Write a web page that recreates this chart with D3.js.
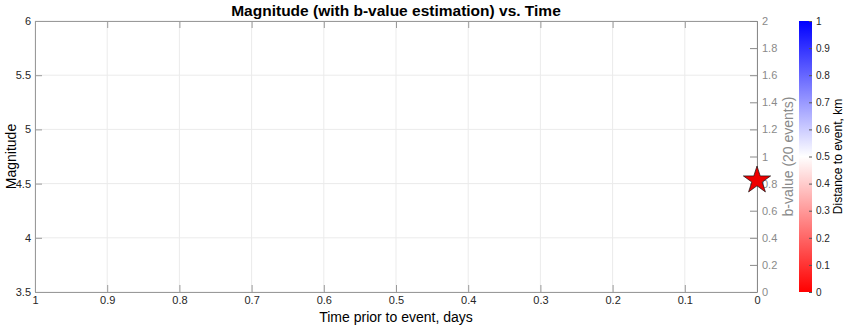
<!DOCTYPE html>
<html>
<head>
<meta charset="utf-8">
<script src="https://cdn.jsdelivr.net/npm/d3@7"></script>
<style>
  html, body { margin: 0; padding: 0; background: #fff; }
  svg { display: block; font-family: "Liberation Sans", Arial, Helvetica, sans-serif; }
</style>
</head>
<body>
<svg id="chart" width="844" height="326"></svg>
<script>
// Axis ranges and ticks
const timeDomain = [1, 0];            // days prior to event, reversed
const timeTicks = [1, 0.9, 0.8, 0.7, 0.6, 0.5, 0.4, 0.3, 0.2, 0.1, 0];
const magDomain = [3.5, 6];
const magTicks = [3.5, 4, 4.5, 5, 5.5, 6];
const bDomain = [0, 2];
const bTicks = [0, 0.2, 0.4, 0.6, 0.8, 1, 1.2, 1.4, 1.6, 1.8, 2];
const distDomain = [0, 1];
const distTicks = [0, 0.1, 0.2, 0.3, 0.4, 0.5, 0.6, 0.7, 0.8, 0.9, 1];

// Main event (star)
const mainEventTime = [0];
const mainEventMag = [4.53];

const svg = d3.select("#chart");
const m = { left: 35, top: 21, right: 757, bottom: 292 };

const x = d3.scaleLinear().domain(timeDomain).range([m.left, m.right]);
const y = d3.scaleLinear().domain(magDomain).range([m.bottom, m.top]);
const yB = d3.scaleLinear().domain(bDomain).range([m.bottom, m.top]);

const axisCol = "#9a9a9a";
const textCol = "#262626";
const rightCol = "#8a8a8a";
const gridCol = "#ebebeb";
const tickLen = 7;

// Grid
const grid = svg.append("g");
grid.selectAll("line.vx").data(timeTicks).join("line")
  .attr("x1", d => x(d)).attr("x2", d => x(d))
  .attr("y1", m.top).attr("y2", m.bottom)
  .attr("stroke", gridCol).attr("stroke-width", 1);
grid.selectAll("line.hy").data(magTicks).join("line")
  .attr("x1", m.left).attr("x2", m.right)
  .attr("y1", d => y(d)).attr("y2", d => y(d))
  .attr("stroke", gridCol).attr("stroke-width", 1);

function styleAxis(g, lineCol, txtCol) {
  g.select(".domain").attr("stroke", lineCol);
  g.selectAll(".tick line").attr("stroke", lineCol);
  g.selectAll(".tick text").attr("fill", txtCol).attr("font-size", 11);
}

// Bottom axis, ticks inward
const gx = svg.append("g").attr("transform", `translate(0,${m.bottom})`)
  .call(d3.axisBottom(x).tickValues(timeTicks).tickFormat(d3.format("~g"))
    .tickSizeInner(-tickLen).tickSizeOuter(0).tickPadding(4));
styleAxis(gx, axisCol, textCol);

// Top axis line with ticks
const gt = svg.append("g").attr("transform", `translate(0,${m.top})`)
  .call(d3.axisTop(x).tickValues(timeTicks).tickFormat("")
    .tickSizeInner(-tickLen).tickSizeOuter(0));
styleAxis(gt, axisCol, textCol);

// Left axis
const gy = svg.append("g").attr("transform", `translate(${m.left},0)`)
  .call(d3.axisLeft(y).tickValues(magTicks).tickFormat(d3.format("~g"))
    .tickSizeInner(-tickLen).tickSizeOuter(0).tickPadding(4));
styleAxis(gy, axisCol, textCol);
gy.selectAll(".tick text").attr("x", -4);

// Right axis (b-value)
const gb = svg.append("g").attr("transform", `translate(${m.right},0)`)
  .call(d3.axisRight(yB).tickValues(bTicks).tickFormat(d3.format("~g"))
    .tickSizeInner(-tickLen).tickSizeOuter(0));
styleAxis(gb, rightCol, rightCol);
gb.selectAll(".tick text").attr("x", 5);

// Main event star
svg.append("g").selectAll("path").data(mainEventTime.map((t, i) => [t, mainEventMag[i]]))
  .join("path")
  .attr("d", d3.symbol().type(d3.symbolStar).size(230))
  .attr("transform", d => `translate(${x(d[0])},${y(d[1])})`)
  .attr("fill", "#ee0000").attr("stroke", "#111").attr("stroke-width", 0.7);

// Axis titles
svg.append("text").attr("x", (m.left + m.right) / 2).attr("y", 16)
  .attr("text-anchor", "middle").attr("font-size", 15.5).attr("font-weight", "bold")
  .attr("fill", "#000").text("Magnitude (with b-value estimation) vs. Time");
svg.append("text").attr("x", (m.left + m.right) / 2).attr("y", 322)
  .attr("text-anchor", "middle").attr("font-size", 14).attr("fill", "#000")
  .text("Time prior to event, days");
svg.append("text").attr("transform", `translate(16,${(m.top + m.bottom) / 2}) rotate(-90)`)
  .attr("text-anchor", "middle").attr("font-size", 14).attr("fill", "#000")
  .text("Magnitude");
svg.append("text").attr("transform", `translate(793,${(m.top + m.bottom) / 2}) rotate(-90)`)
  .attr("text-anchor", "middle").attr("font-size", 14).attr("fill", rightCol)
  .text("b-value (20 events)");

// Colorbar: red -> white -> blue
const cb = { x: 799, w: 13 };
const cScale = d3.scaleLinear().domain(distDomain).range([m.bottom, m.top]);
const defs = svg.append("defs");
const grad = defs.append("linearGradient").attr("id", "distGrad")
  .attr("x1", 0).attr("y1", 1).attr("x2", 0).attr("y2", 0);
grad.selectAll("stop").data([
  { o: 0, c: "#ff0000" }, { o: 0.5, c: "#ffffff" }, { o: 1, c: "#0000ff" }
]).join("stop").attr("offset", d => d.o).attr("stop-color", d => d.c);
svg.append("rect").attr("x", cb.x).attr("y", m.top).attr("width", cb.w)
  .attr("height", m.bottom - m.top).attr("fill", "url(#distGrad)");
const gc = svg.append("g").attr("transform", `translate(${cb.x + cb.w},0)`)
  .call(d3.axisRight(cScale).tickValues(distTicks).tickFormat(d3.format("~g"))
    .tickSizeInner(-3).tickSizeOuter(0));
gc.select(".domain").remove();
gc.selectAll(".tick line").attr("stroke", "#555");
gc.selectAll(".tick text").attr("fill", textCol).attr("font-size", 10).attr("x", 4);
svg.append("text").attr("transform", `translate(842,${(m.top + m.bottom) / 2}) rotate(-90)`)
  .attr("text-anchor", "middle").attr("font-size", 12).attr("fill", "#000")
  .text("Distance to event, km");
</script>
</body>
</html>
